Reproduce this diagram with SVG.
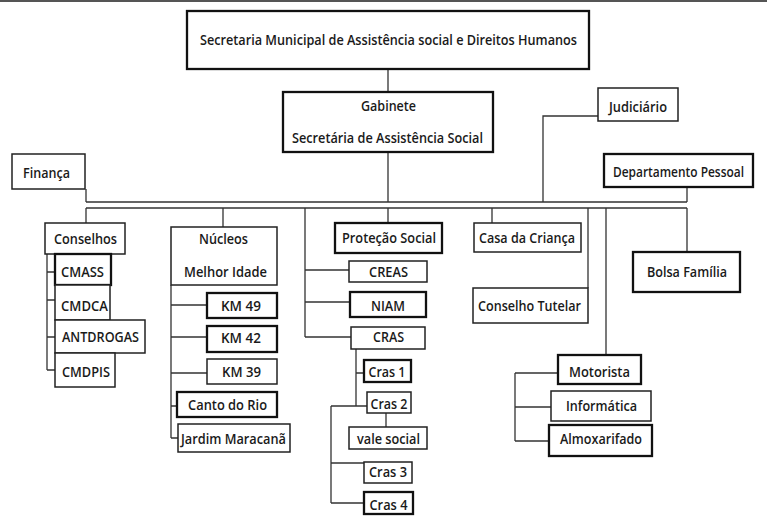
<svg xmlns="http://www.w3.org/2000/svg" width="767" height="516" viewBox="0 0 767 516">
<style>
.b{fill:#fff;stroke:#222;stroke-width:1.5}
.t{fill:#fff;stroke:#111;stroke-width:2.3}
.c{fill:none;stroke:#333;stroke-width:1.3}
text{font-family:"Open Sans","Liberation Sans",sans-serif;font-size:15px;font-weight:600;fill:#1a1a1a;text-anchor:middle}
</style>
<rect width="767" height="516" fill="#fff"/>
<line x1="0" y1="1" x2="767" y2="1" stroke="#555" stroke-width="2"/>
<g id="connectors">
<path class="c" d="M388 69V92M388 152V202M86 189V202M86 202H687M598 116H543V202M687 187V202"/>
<path class="c" d="M86 208H687M86 208V223M223 208V227M305 208V337M305 270H349M305 302H350M305 337H351M388 208V223M492 208V223M588 208V288M606 208V355M687 208V252"/>
<path class="c" d="M47 254V370M47 272H55M47 300H55M47 337H55M47 370H55"/>
<path class="c" d="M171 285V438M171 305H207M171 337H207M171 373H207M171 406H177M171 438H178"/>
<path class="c" d="M356 349V406M356 373H364M331 406H367M331 406V503M386 413V427M331 463H364M331 503H364"/>
<path class="c" d="M515 373V441M515 373H558M515 407H551M515 441H549"/>
</g>
<g id="n-title"><rect class="t" x="187" y="11" width="402" height="58"/><text x="388.5" y="45" textLength="377" lengthAdjust="spacingAndGlyphs">Secretaria Municipal de Assistência social e Direitos Humanos</text></g>
<g id="n-gabinete"><rect class="t" x="283" y="92" width="210" height="60"/><text x="388.5" y="111" textLength="55" lengthAdjust="spacingAndGlyphs">Gabinete</text><text x="387.5" y="143" textLength="191" lengthAdjust="spacingAndGlyphs">Secretária de Assistência Social</text></g>
<g id="n-financa"><rect class="b" x="12" y="154" width="73" height="35"/><text x="46.5" y="178" textLength="47" lengthAdjust="spacingAndGlyphs">Finança</text></g>
<g id="n-judiciario"><rect class="b" x="598" y="88" width="80" height="33"/><text x="638" y="112" textLength="58" lengthAdjust="spacingAndGlyphs">Judiciário</text></g>
<g id="n-dp"><rect class="t" x="604" y="154" width="149" height="33"/><text x="678.5" y="177" style="font-size:13.5px" textLength="131" lengthAdjust="spacingAndGlyphs">Departamento Pessoal</text></g>
<g id="n-conselhos"><rect class="b" x="45" y="223" width="80" height="31"/><text x="85.5" y="244" textLength="63" lengthAdjust="spacingAndGlyphs">Conselhos</text></g>
<g id="n-cmass"><rect class="t" x="55" y="254" width="56" height="31"/><text x="82.5" y="277" textLength="43" lengthAdjust="spacingAndGlyphs">CMASS</text></g>
<g id="n-cmdca"><rect class="b" x="55" y="285" width="55" height="35"/><text x="84.5" y="311" textLength="47" lengthAdjust="spacingAndGlyphs">CMDCA</text></g>
<g id="n-antdrogas"><rect class="b" x="55" y="320" width="90" height="33"/><text x="100.5" y="342" textLength="77" lengthAdjust="spacingAndGlyphs">ANTDROGAS</text></g>
<g id="n-cmdpis"><rect class="b" x="55" y="353" width="60" height="34"/><text x="86" y="377" textLength="48" lengthAdjust="spacingAndGlyphs">CMDPIS</text></g>
<g id="n-nucleos"><rect class="b" x="171" y="227" width="106" height="58"/><text x="223.5" y="244" textLength="49" lengthAdjust="spacingAndGlyphs">Núcleos</text><text x="225.5" y="277" textLength="83" lengthAdjust="spacingAndGlyphs">Melhor Idade</text></g>
<g id="n-km49"><rect class="t" x="207" y="293" width="70" height="25"/><text x="241" y="311" textLength="40" lengthAdjust="spacingAndGlyphs">KM 49</text></g>
<g id="n-km42"><rect class="t" x="207" y="326" width="70" height="26"/><text x="241" y="343" textLength="40" lengthAdjust="spacingAndGlyphs">KM 42</text></g>
<g id="n-km39"><rect class="b" x="207" y="359" width="70" height="25"/><text x="241.5" y="377" textLength="39" lengthAdjust="spacingAndGlyphs">KM 39</text></g>
<g id="n-canto"><rect class="t" x="177" y="392" width="100" height="25"/><text x="227.5" y="410" textLength="79" lengthAdjust="spacingAndGlyphs">Canto do Rio</text></g>
<g id="n-jardim"><rect class="b" x="178" y="424" width="112" height="28"/><text x="233.5" y="444" textLength="105" lengthAdjust="spacingAndGlyphs">Jardim Maracanã</text></g>
<g id="n-protecao"><rect class="t" x="335" y="223" width="107" height="30"/><text x="389" y="243" textLength="94" lengthAdjust="spacingAndGlyphs">Proteção Social</text></g>
<g id="n-creas"><rect class="b" x="349" y="261" width="78" height="21"/><text x="388.5" y="277" textLength="39" lengthAdjust="spacingAndGlyphs">CREAS</text></g>
<g id="n-niam"><rect class="t" x="350" y="292" width="76" height="25"/><text x="388" y="311" textLength="34" lengthAdjust="spacingAndGlyphs">NIAM</text></g>
<g id="n-cras"><rect class="b" x="351" y="327" width="74" height="22"/><text x="388.5" y="342" textLength="31" lengthAdjust="spacingAndGlyphs">CRAS</text></g>
<g id="n-cras1"><rect class="t" x="364" y="360" width="47" height="22"/><text x="387" y="377" textLength="37" lengthAdjust="spacingAndGlyphs">Cras 1</text></g>
<g id="n-cras2"><rect class="b" x="367" y="392" width="44" height="21"/><text x="389" y="409" textLength="37" lengthAdjust="spacingAndGlyphs">Cras 2</text></g>
<g id="n-vale"><rect class="b" x="349" y="427" width="78" height="22"/><text x="388.5" y="444" textLength="63" lengthAdjust="spacingAndGlyphs">vale social</text></g>
<g id="n-cras3"><rect class="b" x="364" y="462" width="48" height="21"/><text x="388" y="477" textLength="38" lengthAdjust="spacingAndGlyphs">Cras 3</text></g>
<g id="n-cras4"><rect class="t" x="364" y="492" width="49" height="22"/><text x="388.5" y="510" textLength="38" lengthAdjust="spacingAndGlyphs">Cras 4</text></g>
<g id="n-casa"><rect class="b" x="474" y="223" width="107" height="29"/><text x="527" y="243" textLength="96" lengthAdjust="spacingAndGlyphs">Casa da Criança</text></g>
<g id="n-tutelar"><rect class="b" x="473" y="288" width="115" height="35"/><text x="529.5" y="311" textLength="103" lengthAdjust="spacingAndGlyphs">Conselho Tutelar</text></g>
<g id="n-bolsa"><rect class="t" x="633" y="252" width="107" height="40"/><text x="687" y="277" textLength="80" lengthAdjust="spacingAndGlyphs">Bolsa Família</text></g>
<g id="n-motorista"><rect class="t" x="558" y="355" width="83" height="29"/><text x="599.5" y="377" textLength="61" lengthAdjust="spacingAndGlyphs">Motorista</text></g>
<g id="n-informatica"><rect class="b" x="551" y="391" width="100" height="30"/><text x="601.5" y="411" textLength="71" lengthAdjust="spacingAndGlyphs">Informática</text></g>
<g id="n-almox"><rect class="t" x="549" y="425" width="103" height="31"/><text x="601" y="444" textLength="82" lengthAdjust="spacingAndGlyphs">Almoxarifado</text></g>
</svg>
